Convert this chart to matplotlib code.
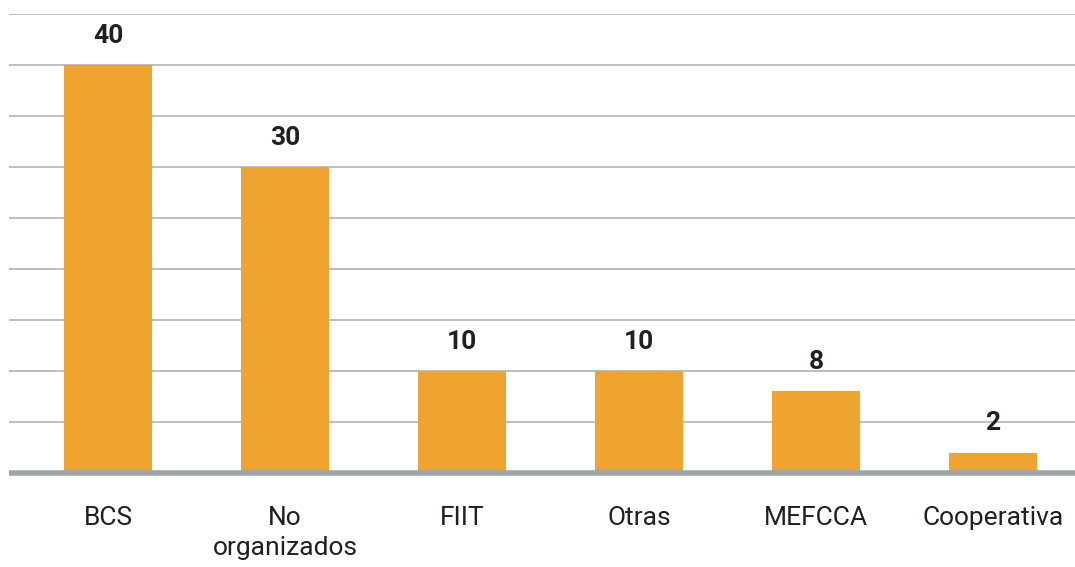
import matplotlib.pyplot as plt

# Data
categories = ['BCS', 'No\norganizados', 'FIIT', 'Otras', 'MEFCCA', 'Cooperativa']
values = [40, 30, 10, 10, 8, 2]

plt.rcParams['font.family'] = ['Roboto', 'DejaVu Sans']

fig = plt.figure(figsize=(10.75, 5.67), dpi=100)
ax = fig.add_axes([9 / 1075, 94 / 567, 1066 / 1075, 459 / 567])

x = range(len(categories))
ax.bar(x, values, width=0.5, color='#F0A430', zorder=2)

for xi, v in zip(x, values):
    ax.text(xi, v + 1.7, str(v), ha='center', va='bottom',
            fontsize=19, fontweight='bold', color='#231F20')

ax.set_xlim(-0.559, 5.463)
ax.set_ylim(0, 45)
ax.set_yticks(range(0, 46, 5))
ax.yaxis.grid(True, color='#B3B3B3', linewidth=1.2, zorder=0)
ax.set_yticklabels([])
ax.tick_params(axis='y', length=0)

ax.set_xticks(list(x))
ax.set_xticklabels(categories, fontsize=19, color='#231F20', linespacing=1.3)
ax.tick_params(axis='x', length=0, pad=24)

for side in ['top', 'right', 'left']:
    ax.spines[side].set_visible(False)
ax.spines['bottom'].set_color('#A1A4A6')
ax.spines['bottom'].set_linewidth(4)
ax.spines['bottom'].set_capstyle('butt')
ax.spines['bottom'].set_zorder(3)

fig.savefig('out.png', dpi=100)
